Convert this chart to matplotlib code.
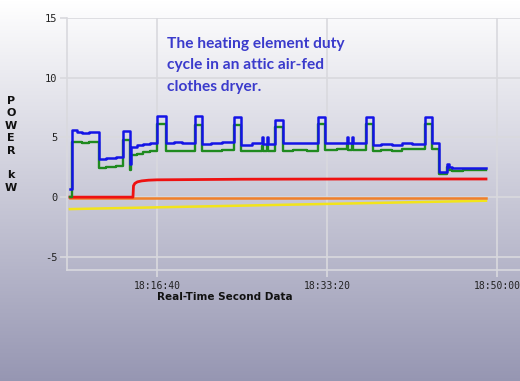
import matplotlib
matplotlib.use("Agg")
import matplotlib.pyplot as plt
import numpy as np

# time in seconds after 18:00:00, power in kW
blue_t = [488, 500, 530, 560, 600, 659, 700, 760, 800, 841, 847, 880, 920, 960,
          1000, 1053, 1100, 1150, 1224, 1265, 1320, 1380, 1453, 1494, 1560, 1618, 1625, 1647, 1654,
          1694, 1741, 1800, 1880, 1947, 1988, 2060, 2118, 2125, 2147, 2154,
          2229, 2271, 2320, 2380, 2440, 2500, 2576, 2618, 2659, 2706, 2718, 2735, 2800, 2935]
blue_v = [0.7, 5.6, 5.45, 5.4, 5.45, 3.2, 3.3, 3.35, 5.55, 2.8, 4.2, 4.35, 4.45, 4.5,
          6.8, 4.55, 4.6, 4.5, 6.8, 4.45, 4.5, 4.6, 6.75, 4.4, 4.5, 5.0, 4.45, 5.0, 4.45,
          6.5, 4.5, 4.55, 4.5, 6.75, 4.5, 4.55, 5.0, 4.5, 5.0, 4.5,
          6.75, 4.35, 4.45, 4.4, 4.5, 4.45, 6.7, 4.5, 2.1, 2.8, 2.5, 2.4, 2.45, 2.45]
green_v = [0.0, 4.65, 4.6, 4.55, 4.6, 2.45, 2.55, 2.6, 4.75, 2.3, 3.5, 3.65, 3.75, 3.85,
           6.1, 3.85, 3.9, 3.85, 6.05, 3.85, 3.9, 3.95, 6.0, 3.85, 3.9, 4.3, 3.85, 4.3, 3.9,
           5.9, 3.9, 3.95, 3.9, 6.1, 3.95, 4.0, 4.4, 3.95, 4.4, 3.95,
           6.1, 3.85, 3.95, 3.9, 4.0, 4.0, 6.1, 4.0, 1.9, 2.5, 2.3, 2.2, 2.25, 2.25]

red_t = [488, 859, 862, 870, 885, 910, 950, 1000, 1500, 2200, 2935]
red_v = [0.0, 0.0, 0.95, 1.15, 1.28, 1.36, 1.42, 1.45, 1.5, 1.52, 1.52]

orange_t = [488, 2935]
orange_v = [-0.05, -0.05]

yellow_t = [488, 2935]
yellow_v = [-1.0, -0.3]

xticks = [1000, 2000, 3000]
xtick_labels = ["18:16:40", "18:33:20", "18:50:00"]
yticks = [-5, 0, 5, 10, 15]

W, H = 520, 381
fig = plt.figure(figsize=(W / 100, H / 100), dpi=100)

# background gradient
bg = fig.add_axes([0, 0, 1, 1], zorder=-10)
grad = np.linspace(0, 1, 256).reshape(-1, 1)
top = np.array([1.0, 1.0, 1.0])
bot = np.array([0.59, 0.59, 0.70])
img = top[None, None, :] * (1 - grad[:, :, None]) + bot[None, None, :] * grad[:, :, None]
bg.imshow(img, aspect="auto", extent=[0, 1, 0, 1])
bg.axis("off")

ax = fig.add_axes([67 / W, (H - 270) / H, (W - 67) / W, (270 - 18) / H])
ax.patch.set_alpha(0)
ax.set_xlim(471, 3135)
ax.set_ylim(-6.1, 15)

gc = "#d9d9de"
ax.set_xticks(xticks)
ax.set_xticklabels(xtick_labels, family="DejaVu Sans Mono", fontsize=7, color="#222222")
ax.set_yticks(yticks)
ax.set_yticklabels([str(v) for v in yticks], family="DejaVu Sans Mono", fontsize=7.5, color="#222222")
ax.tick_params(length=5, width=1.2, color=gc, pad=2)
ax.tick_params(axis="x", pad=3)
ax.grid(True, color=gc, linewidth=1.2)
for s in ["top", "right"]:
    ax.spines[s].set_visible(False)
for s in ["left", "bottom"]:
    ax.spines[s].set_color(gc)
    ax.spines[s].set_linewidth(1.2)

ax.plot(yellow_t, yellow_v, color="#f2e41a", lw=1.8, zorder=3)
ax.plot(orange_t, orange_v, color="#f07f2a", lw=1.8, zorder=3)
ax.plot(red_t, red_v, color="#ee1111", lw=2.0, zorder=4)
ax.plot(blue_t, green_v, color="#1f8a1f", lw=1.7, drawstyle="steps-post", zorder=5)
ax.plot(blue_t, blue_v, color="#1414e6", lw=1.8, drawstyle="steps-post", zorder=6)

# title note
note = ["The heating element duty", "cycle in an attic air-fed", "clothes dryer."]
for i, line in enumerate(note):
    fig.text(167 / W, 1 - (44 + 21.5 * i) / H, line, family="Lato", fontweight="bold",
             fontsize=11.2, color="#3b3bcc", va="center", ha="left")

# stacked y label
letters = ["P", "O", "W", "E", "R", "", "k", "W"]
for i, ch in enumerate(letters):
    fig.text(11 / W, 1 - (101 + 12.4 * i) / H, ch, family="DejaVu Sans", fontweight="bold",
             fontsize=8, color="#111111", ha="center", va="center")

fig.text(225 / W, 1 - 297 / H, "Real-Time Second Data", family="DejaVu Sans",
         fontweight="bold", fontsize=7.5, color="#111111", ha="center", va="center")

fig.savefig("out.png", dpi=100)
